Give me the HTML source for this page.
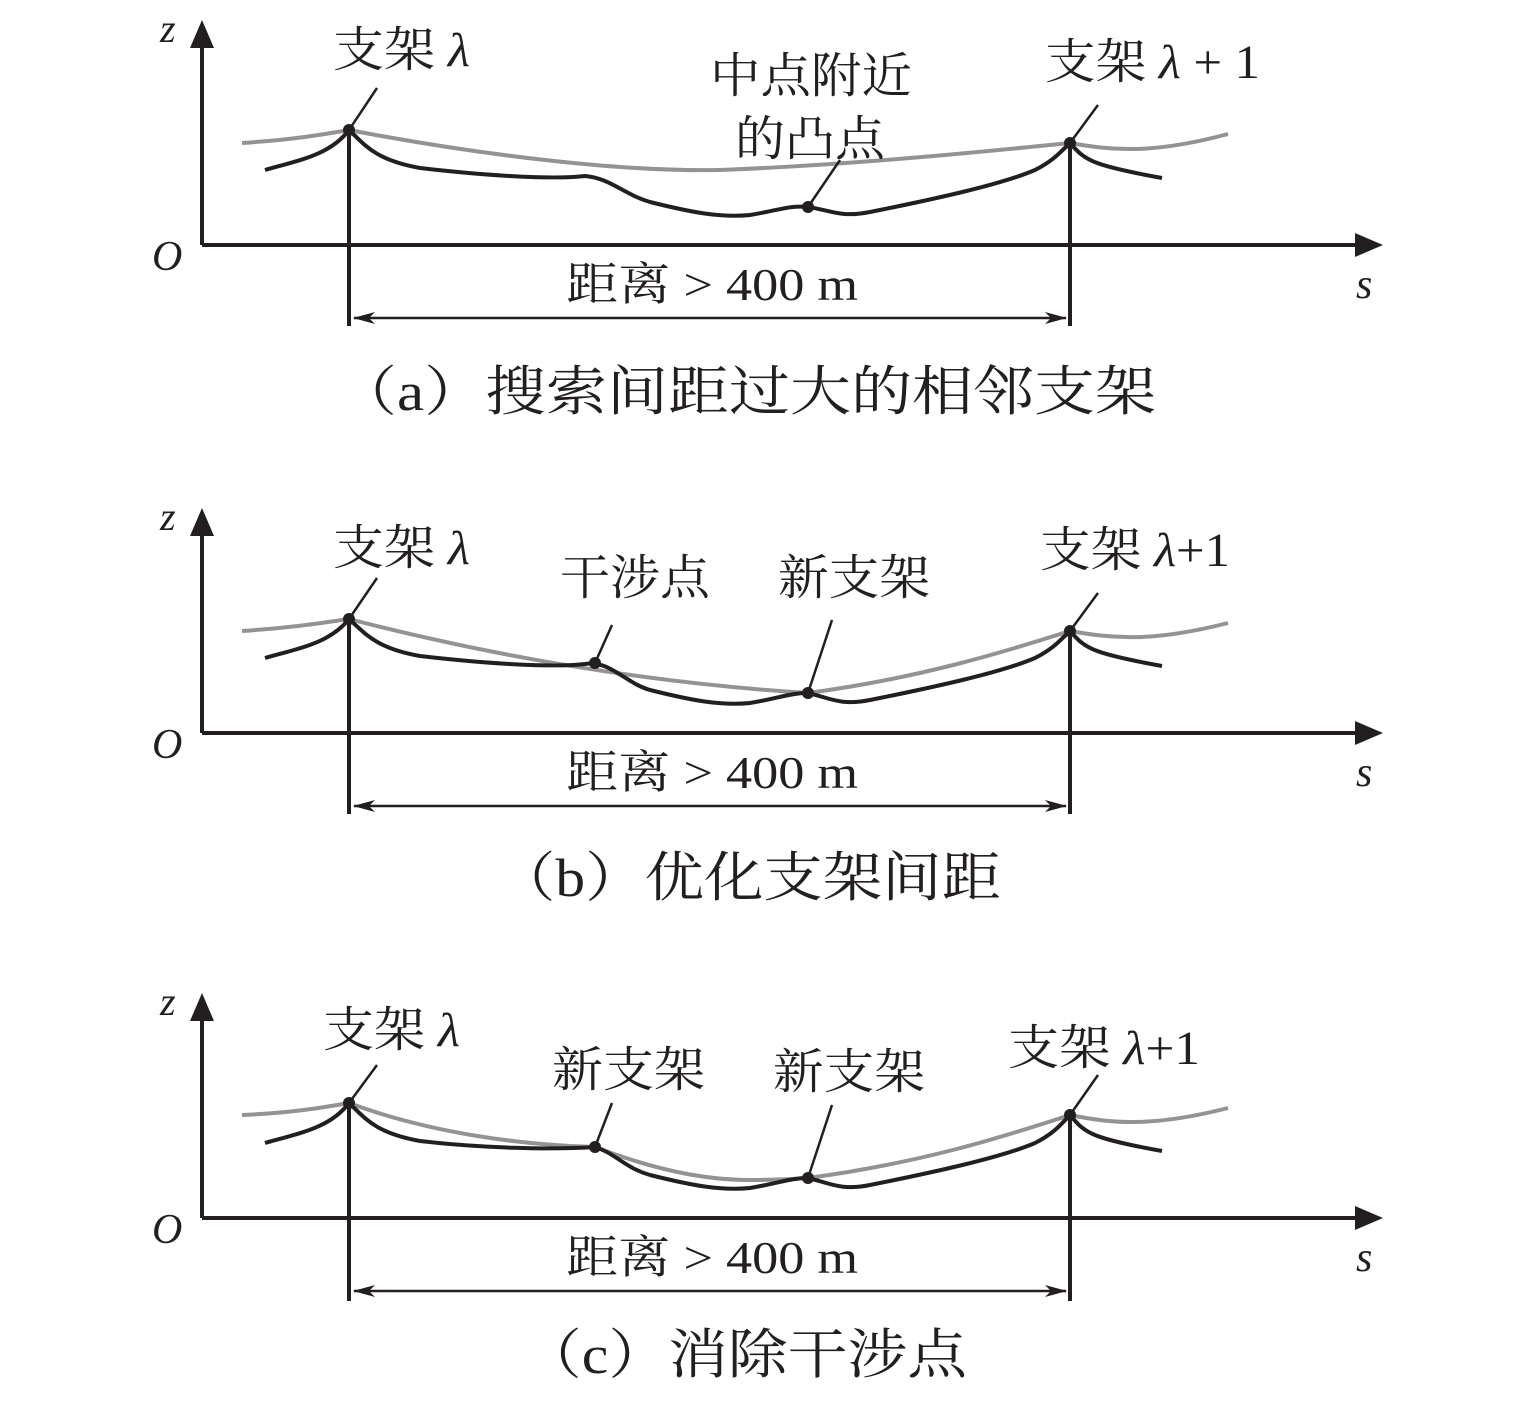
<!DOCTYPE html>
<html><head><meta charset="utf-8"><style>
body{margin:0;background:#fff}
text{font-family:"Liberation Serif","Noto Serif CJK SC",serif;fill:#231f20}
.it{font-style:italic}
</style></head><body>
<svg width="1535" height="1396" viewBox="0 0 1535 1396" xmlns="http://www.w3.org/2000/svg">
<defs>
<marker id="da" markerWidth="22" markerHeight="12" refX="21" refY="6" orient="auto-start-reverse" markerUnits="userSpaceOnUse"><path d="M0,0 L22,6 L0,12 L6,6 Z" fill="#231f20"/></marker>
<g id="axes">
<line x1="202" y1="245" x2="202" y2="40" stroke="#231f20" stroke-width="4"/>
<path d="M190,48 L202,20 L214,48 Z" fill="#231f20"/>
<line x1="202" y1="245" x2="1362" y2="245" stroke="#231f20" stroke-width="4"/>
<path d="M1355,233 L1383,245 L1355,257 Z" fill="#231f20"/>
<text x="152" y="270" font-size="42" class="it">O</text>
<text x="1356" y="298" font-size="42" class="it">s</text>
<text x="160" y="42" font-size="40" class="it">z</text>
<line x1="354" y1="318" x2="1066" y2="318" stroke="#231f20" stroke-width="2.5" marker-start="url(#da)" marker-end="url(#da)"/>
<text x="566" y="300" font-size="46" textLength="292" lengthAdjust="spacingAndGlyphs">距离 &gt; 400 m</text>
</g>
</defs>

<!-- panel a -->
<use href="#axes"/>
<path d="M242,143 C290,140 320,135 349,130 C480,155 620,172 720,170 C850,165 980,152 1070,143 C1110,150 1150,155 1228,134" fill="none" stroke="#939393" stroke-width="4"/>
<path d="M265,170 C300,160 330,155 349,130 C365,145 375,160 420,168 C480,175 550,180 585,176 C610,178 625,195 650,202 C690,212 720,218 750,215 C780,210 790,205 808,207 C830,210 840,218 870,212 C930,200 1000,185 1035,170 C1055,160 1062,150 1070,143 C1085,160 1090,165 1162,178" fill="none" stroke="#231f20" stroke-width="4"/>
<line x1="349" y1="130" x2="349" y2="326" stroke="#231f20" stroke-width="4"/>
<line x1="1070" y1="143" x2="1070" y2="326" stroke="#231f20" stroke-width="4"/>
<circle cx="349" cy="130" r="6" fill="#231f20"/><circle cx="1070" cy="143" r="6" fill="#231f20"/><circle cx="808" cy="207" r="6" fill="#231f20"/>
<line x1="349" y1="130" x2="377" y2="88" stroke="#231f20" stroke-width="2.5"/>
<line x1="808" y1="207" x2="840" y2="160" stroke="#231f20" stroke-width="2.5"/>
<line x1="1070" y1="143" x2="1098" y2="105" stroke="#231f20" stroke-width="2.5"/>
<text x="333" y="66" font-size="48" textLength="137" lengthAdjust="spacingAndGlyphs">支架 <tspan class="it">λ</tspan></text>
<text x="710" y="92" font-size="48" textLength="202" lengthAdjust="spacingAndGlyphs">中点附近</text>
<text x="735" y="155" font-size="48" textLength="150" lengthAdjust="spacingAndGlyphs">的凸点</text>
<text x="1045" y="78" font-size="48" textLength="215" lengthAdjust="spacingAndGlyphs">支架 <tspan class="it">λ</tspan> + 1</text>
<text x="336" y="410" font-size="54" textLength="820" lengthAdjust="spacingAndGlyphs">（a）搜索间距过大的相邻支架</text>

<!-- panel b -->
<g transform="translate(0,488)">
<use href="#axes"/>
<path d="M242,143 C290,140 320,135 349,131 C500,170 650,195 808,205 C920,190 1000,165 1070,143 C1110,150 1150,155 1228,135" fill="none" stroke="#939393" stroke-width="4"/>
<path d="M265,170 C300,160 330,155 349,131 C365,145 375,160 420,168 C480,175 550,180 585,176 C610,172 625,195 650,202 C690,212 720,218 750,215 C780,210 790,205 808,205 C830,210 840,218 870,212 C930,200 1000,185 1035,170 C1055,160 1062,150 1070,143 C1085,160 1090,165 1162,178" fill="none" stroke="#231f20" stroke-width="4"/>
<line x1="349" y1="131" x2="349" y2="326" stroke="#231f20" stroke-width="4"/>
<line x1="1070" y1="143" x2="1070" y2="326" stroke="#231f20" stroke-width="4"/>
<circle cx="349" cy="131" r="6" fill="#231f20"/><circle cx="1070" cy="143" r="6" fill="#231f20"/><circle cx="808" cy="205" r="6" fill="#231f20"/><circle cx="595" cy="175" r="6" fill="#231f20"/>
<line x1="349" y1="131" x2="377" y2="90" stroke="#231f20" stroke-width="2.5"/>
<line x1="595" y1="175" x2="612" y2="137" stroke="#231f20" stroke-width="2.5"/>
<line x1="808" y1="205" x2="832" y2="132" stroke="#231f20" stroke-width="2.5"/>
<line x1="1070" y1="143" x2="1098" y2="105" stroke="#231f20" stroke-width="2.5"/>
<text x="333" y="76" font-size="48" textLength="137" lengthAdjust="spacingAndGlyphs">支架 <tspan class="it">λ</tspan></text>
<text x="560" y="106" font-size="48" textLength="150" lengthAdjust="spacingAndGlyphs">干涉点</text>
<text x="778" y="106" font-size="48" textLength="152" lengthAdjust="spacingAndGlyphs">新支架</text>
<text x="1040" y="78" font-size="48" textLength="190" lengthAdjust="spacingAndGlyphs">支架 <tspan class="it">λ</tspan>+1</text>
<text x="496" y="408" font-size="54" textLength="505" lengthAdjust="spacingAndGlyphs">（b）优化支架间距</text>
</g>

<!-- panel c -->
<g transform="translate(0,973)">
<use href="#axes"/>
<path d="M242,142 C290,140 320,135 349,130 C430,160 520,172 595,174 C650,195 700,207 750,207 C780,207 795,206 808,205 C920,190 1000,165 1070,142 C1110,150 1150,155 1228,135" fill="none" stroke="#939393" stroke-width="4"/>
<path d="M265,170 C300,160 330,155 349,130 C365,145 375,160 420,168 C480,175 550,177 595,174 C615,180 625,195 650,202 C690,212 720,218 750,215 C780,210 790,205 808,205 C830,210 840,218 870,212 C930,200 1000,185 1035,170 C1055,160 1062,150 1070,142 C1085,160 1090,165 1162,178" fill="none" stroke="#231f20" stroke-width="4"/>
<line x1="349" y1="130" x2="349" y2="328" stroke="#231f20" stroke-width="4"/>
<line x1="1070" y1="142" x2="1070" y2="328" stroke="#231f20" stroke-width="4"/>
<circle cx="349" cy="130" r="6" fill="#231f20"/><circle cx="1070" cy="142" r="6" fill="#231f20"/><circle cx="808" cy="205" r="6" fill="#231f20"/><circle cx="595" cy="174" r="6" fill="#231f20"/>
<line x1="349" y1="130" x2="377" y2="92" stroke="#231f20" stroke-width="2.5"/>
<line x1="595" y1="174" x2="612" y2="130" stroke="#231f20" stroke-width="2.5"/>
<line x1="808" y1="205" x2="832" y2="132" stroke="#231f20" stroke-width="2.5"/>
<line x1="1070" y1="142" x2="1098" y2="102" stroke="#231f20" stroke-width="2.5"/>
<text x="323" y="73" font-size="48" textLength="137" lengthAdjust="spacingAndGlyphs">支架 <tspan class="it">λ</tspan></text>
<text x="552" y="113" font-size="48" textLength="153" lengthAdjust="spacingAndGlyphs">新支架</text>
<text x="773" y="115" font-size="48" textLength="152" lengthAdjust="spacingAndGlyphs">新支架</text>
<text x="1008" y="91" font-size="48" textLength="192" lengthAdjust="spacingAndGlyphs">支架 <tspan class="it">λ</tspan>+1</text>
<text x="522" y="400" font-size="54" textLength="445" lengthAdjust="spacingAndGlyphs">（c）消除干涉点</text>
</g>
</svg>
</body></html>
